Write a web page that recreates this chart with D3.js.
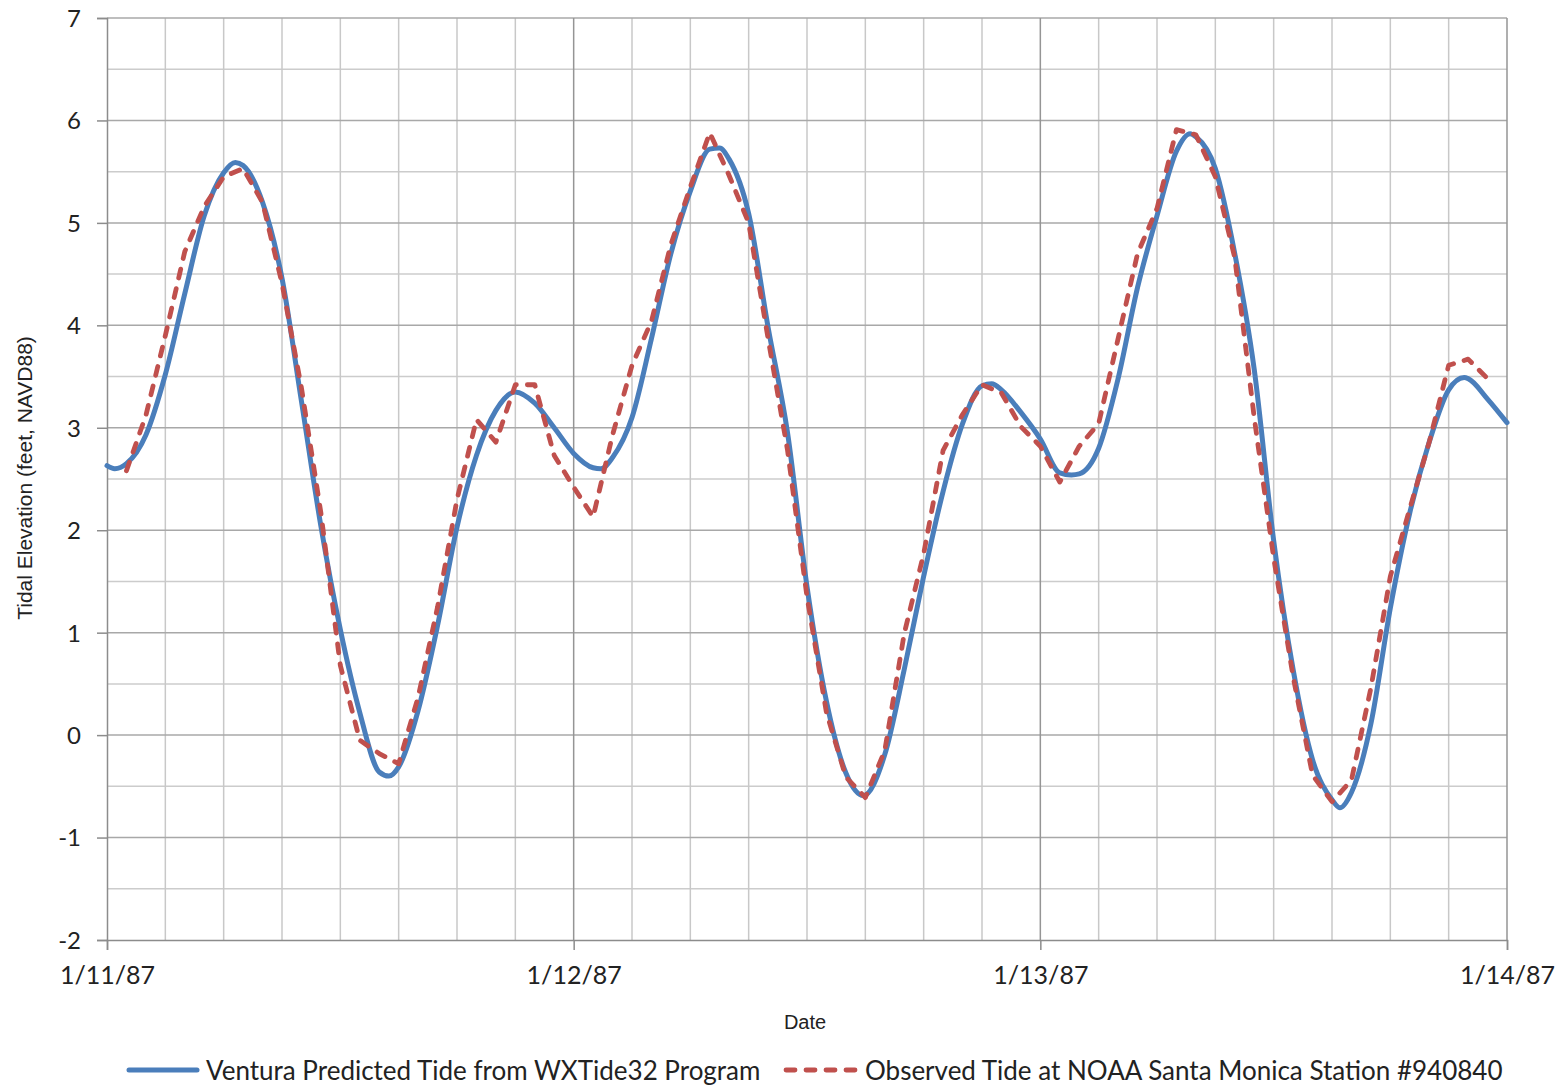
<!DOCTYPE html>
<html>
<head>
<meta charset="utf-8">
<script src="https://cdn.jsdelivr.net/npm/d3@7"></script>
<style>
  html, body { margin: 0; padding: 0; background: #fff; }
  svg { display: block; }
</style>
</head>
<body>
<svg id="chart" width="1560" height="1089"></svg>
<script>
// ---- Data (hours since 1/11/87 00:00, tidal elevation in feet NAVD88) ----
const predHours = [0,0.4,1,2,3,4,5,6,6.6,7,8,9,10,11,12,13,14,14.5,15,16,17,18,19,20,21,22,23,24,25,25.4,26,27,28,29,30,31,31.5,32,33,34,35,36,37,38,38.9,40,41,42,43,44,45,45.5,46,47,48,49,49.6,50,51,52,53,54,55,55.7,56,57,58,59,60,61,62,63,63.4,64,65,66,67,68,69,69.8,70,71,72];
const predValues = [2.63,2.60,2.65,2.93,3.52,4.31,5.07,5.49,5.59,5.56,5.20,4.46,3.26,2.04,1.03,0.22,-0.36,-0.40,-0.31,0.24,1.07,2.03,2.73,3.17,3.35,3.24,3.00,2.75,2.61,2.60,2.71,3.10,3.87,4.70,5.31,5.72,5.73,5.62,5.09,3.98,2.95,1.45,0.33,-0.37,-0.59,-0.19,0.64,1.55,2.38,3.04,3.41,3.43,3.37,3.15,2.89,2.56,2.54,2.55,2.80,3.48,4.37,5.07,5.70,5.87,5.84,5.53,4.70,3.57,1.90,0.64,-0.24,-0.63,-0.71,-0.56,0.11,1.24,2.17,2.86,3.37,3.49,3.48,3.28,3.05];

const obsHours = [1,2,3,4,5,6,7,8,9,10,11,12,13,14,15,16,17,18,19,20,21,22,23,24,25,26,27,28,29,30,31,32,33,34,35,36,37,38,39,40,41,42,43,44,45,46,47,48,49,50,51,52,53,54,55,56,57,58,59,60,61,62,63,64,65,66,67,68,69,70,71];
const obsValues = [2.58,3.12,3.90,4.72,5.16,5.45,5.53,5.20,4.41,3.39,2.17,0.68,-0.05,-0.18,-0.28,0.37,1.25,2.30,3.08,2.86,3.42,3.42,2.73,2.42,2.13,2.93,3.61,4.04,4.79,5.35,5.88,5.46,5.00,3.87,2.78,1.35,0.22,-0.41,-0.61,-0.15,0.99,1.77,2.78,3.13,3.42,3.34,3.01,2.82,2.47,2.82,3.04,3.87,4.70,5.14,5.91,5.86,5.45,4.66,3.10,1.73,0.57,-0.39,-0.65,-0.44,0.46,1.55,2.21,2.86,3.61,3.67,3.48];

const xTickHours = [0, 24, 48, 72];
const xTickLabels = ["1/11/87", "1/12/87", "1/13/87", "1/14/87"];
const yTicks = [-2,-1,0,1,2,3,4,5,6,7];
const seriesNames = ["Ventura Predicted Tide from WXTide32 Program", "Observed Tide at NOAA Santa Monica Station #940840"];

// ---- Layout ----
const L = 107, R = 1507, T = 18, B = 940;
const svg = d3.select("#chart");
const x = d3.scaleLinear().domain([0, 72]).range([L, R]);
const y = d3.scaleLinear().domain([-2, 7]).range([B, T]);

const BLUE = "#4a7ebb", RED = "#c0504d";
const TICKFONT = "Lato, 'Open Sans', sans-serif";

// grid
const g = svg.append("g");
const minorY = d3.range(-1.5, 7, 1);
g.selectAll(".hmin").data(minorY).join("line")
  .attr("x1", L).attr("x2", R).attr("y1", d => y(d)).attr("y2", d => y(d))
  .attr("stroke", "#cccccc").attr("stroke-width", 1.5);
const vMinor = d3.range(3, 72, 3).filter(h => h % 24 !== 0);
g.selectAll(".vmin").data(vMinor).join("line")
  .attr("x1", d => x(d)).attr("x2", d => x(d)).attr("y1", T).attr("y2", B)
  .attr("stroke", "#c8c8c8").attr("stroke-width", 1.5);
g.selectAll(".hmaj").data(yTicks.filter(d => d > -2)).join("line")
  .attr("x1", L).attr("x2", R).attr("y1", d => y(d)).attr("y2", d => y(d))
  .attr("stroke", "#a8a8a8").attr("stroke-width", 1.5);
g.selectAll(".vmaj").data(xTickHours.slice(1)).join("line")
  .attr("x1", d => x(d)).attr("x2", d => x(d)).attr("y1", T).attr("y2", B)
  .attr("stroke", "#959595").attr("stroke-width", 1.5);

// axes
const yAxis = d3.axisLeft(y).tickValues(yTicks).tickSize(10).tickFormat(d => String(d));
const ya = svg.append("g").attr("transform", `translate(${L},0)`).call(yAxis);
ya.select(".domain").attr("stroke", "#8c8c8c").attr("stroke-width", 1.5);
ya.selectAll(".tick line").attr("stroke", "#8c8c8c").attr("stroke-width", 1.5);
ya.selectAll(".tick text").attr("x", -26).attr("dy", "0.35em")
  .style("font-family", TICKFONT).style("font-size", "24px").attr("fill", "#222");

const xAxis = d3.axisBottom(x).tickValues(xTickHours).tickSize(10).tickFormat((d, i) => xTickLabels[i]);
const xa = svg.append("g").attr("transform", `translate(0,${B})`).call(xAxis);
xa.select(".domain").attr("stroke", "#8c8c8c").attr("stroke-width", 1.5);
xa.selectAll(".tick line").attr("stroke", "#8c8c8c").attr("stroke-width", 1.5);
xa.selectAll(".tick text").attr("y", 26).attr("dy", "0.71em")
  .style("font-family", TICKFONT).style("font-size", "25px").attr("fill", "#222");

// axis titles
svg.append("text").attr("x", 805).attr("y", 1029).attr("text-anchor", "middle")
  .style("font-family", "'Liberation Sans', Arial, sans-serif").style("font-size", "20px").attr("fill", "#222")
  .text("Date");
svg.append("text").attr("transform", `translate(32,478) rotate(-90)`).attr("text-anchor", "middle")
  .style("font-family", "'Liberation Sans', Arial, sans-serif").style("font-size", "21px").attr("fill", "#222")
  .text("Tidal Elevation (feet, NAVD88)");

// series
const pred = predHours.map((h, i) => [h, predValues[i]]);
const obs = obsHours.map((h, i) => [h, obsValues[i]]);
const lineSmooth = d3.line().x(d => x(d[0])).y(d => y(d[1])).curve(d3.curveMonotoneX);
const lineStraight = d3.line().x(d => x(d[0])).y(d => y(d[1]));

svg.append("path").datum(pred).attr("d", lineSmooth)
  .attr("fill", "none").attr("stroke", BLUE).attr("stroke-width", 5)
  .attr("stroke-linejoin", "round").attr("stroke-linecap", "round");
svg.append("path").datum(obs).attr("d", lineStraight)
  .attr("fill", "none").attr("stroke", RED).attr("stroke-width", 4.8)
  .attr("stroke-dasharray", "9,11").attr("stroke-linecap", "round").attr("stroke-linejoin", "round");

// legend
const lg = svg.append("g");
lg.append("line").attr("x1", 129).attr("x2", 197).attr("y1", 1070).attr("y2", 1070)
  .attr("stroke", BLUE).attr("stroke-width", 5).attr("stroke-linecap", "round");
lg.append("text").attr("x", 206).attr("y", 1071).attr("dy", "0.35em")
  .style("font-family", TICKFONT).style("font-size", "26px").attr("fill", "#222")
  .text(seriesNames[0]);
lg.append("line").attr("x1", 786).attr("x2", 858).attr("y1", 1070).attr("y2", 1070)
  .attr("stroke", RED).attr("stroke-width", 4.8).attr("stroke-dasharray", "9,11").attr("stroke-linecap", "round");
lg.append("text").attr("x", 865).attr("y", 1071).attr("dy", "0.35em")
  .style("font-family", TICKFONT).style("font-size", "26px").attr("fill", "#222")
  .text(seriesNames[1]);
</script>
</body>
</html>
